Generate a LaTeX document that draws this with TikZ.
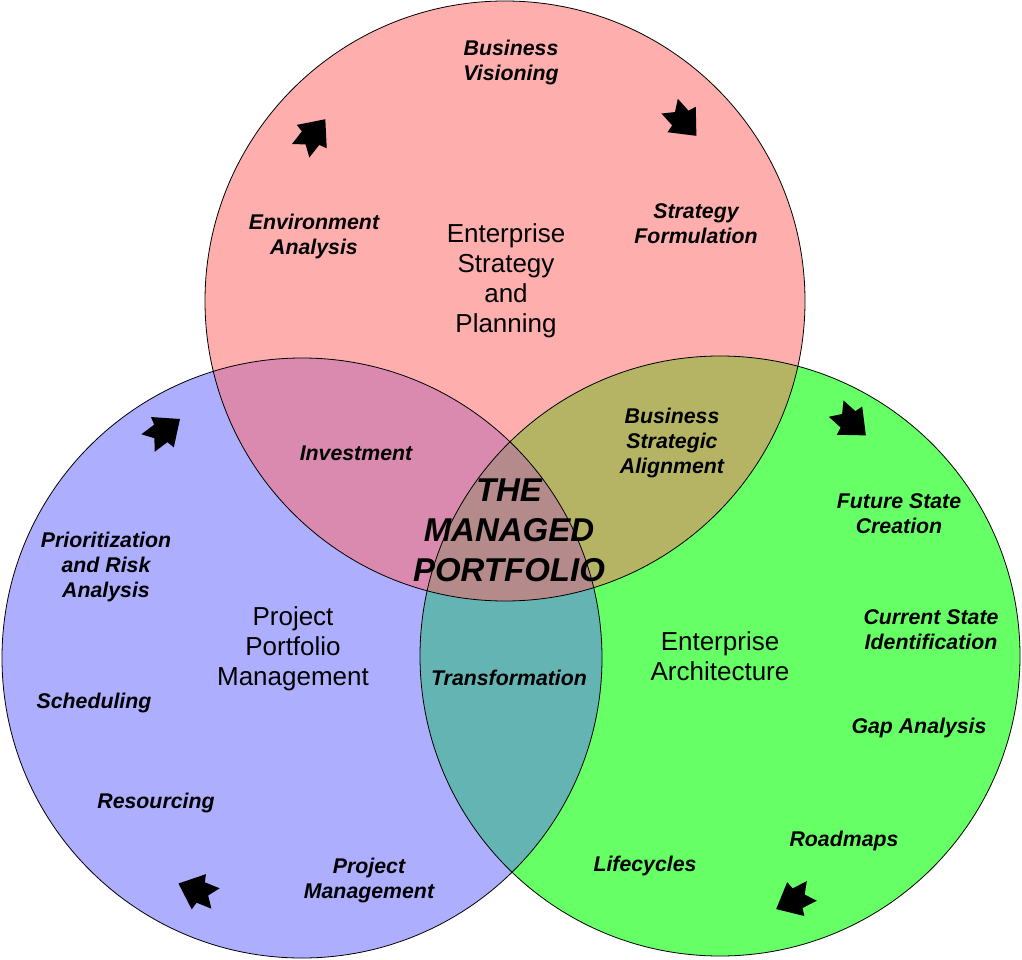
\documentclass[tikz,border=0pt]{standalone}
\usepackage{fontspec}
\setmainfont{Liberation Sans}
\definecolor{cred}{RGB}{255,174,174}
\definecolor{cblue}{RGB}{174,174,255}
\definecolor{cgreen}{RGB}{102,255,102}
\definecolor{crb}{RGB}{217,138,174}
\definecolor{crg}{RGB}{180,180,100}
\definecolor{cbg}{RGB}{100,180,180}
\definecolor{call}{RGB}{180,138,138}
\newcommand{\blkarrow}[3]{%
  \fill[black, shift={(#1,#2)}, rotate=#3]
    (20,0) -- (-2,19) -- (-4,11) -- (-20,11) -- (-12,0) -- (-20,-11) -- (-4,-11) -- (-2,-19) -- cycle;}
\begin{document}
\begin{tikzpicture}[x=1pt,y=-1pt,
  lbl/.style={font=\fontsize{21.3}{25}\selectfont\bfseries\itshape, align=center, inner sep=0pt},
  ttl/.style={font=\fontsize{26}{30}\selectfont, align=center, inner sep=0pt},
  big/.style={font=\fontsize{33}{40}\selectfont\bfseries\itshape, align=center, inner sep=0pt}]
\useasboundingbox (0,0) rectangle (1022,960);
\coordinate (R) at (505,301);
\coordinate (B) at (302,658);
\coordinate (G) at (720,656);
% base fills
\fill[cred] (R) circle (300pt);
\fill[cblue] (B) circle (300pt);
\fill[cgreen] (G) circle (300pt);
% pairwise overlaps
\begin{scope}
  \clip (R) circle (300pt);
  \fill[crb] (B) circle (300pt);
  \fill[crg] (G) circle (300pt);
\end{scope}
\begin{scope}
  \clip (B) circle (300pt);
  \fill[cbg] (G) circle (300pt);
  \clip (G) circle (300pt);
  \fill[call] (R) circle (300pt);
\end{scope}
% outlines
\draw[line width=0.8pt] (R) circle (300pt);
\draw[line width=0.8pt] (B) circle (300pt);
\draw[line width=0.8pt] (G) circle (300pt);
% arrows
\blkarrow{313}{135}{52}
\blkarrow{683}{121}{-48}
\blkarrow{164}{431}{37}
\blkarrow{851}{422}{-42}
\blkarrow{197}{891}{158}
\blkarrow{794}{900}{-153}
% texts
\node[lbl] (bv) at (511,62) {Business\\Visioning};
\node[lbl] (ea) at (314,236) {Environment\\Analysis};
\node[ttl] (esp) at (506,281) {Enterprise\\Strategy\\and\\Planning};
\node[lbl] (sf) at (696,224) {Strategy\\Formulation};
\node[lbl] (inv) at (356,453) {Investment};
\node[lbl] (bsa) at (672,443) {Business\\Strategic\\Alignment};
\node[big] (tmp) at (509,530) {THE\\MANAGED\\PORTFOLIO};
\node[lbl] (pra) at (106,567) {Prioritization\\and Risk\\Analysis};
\node[ttl] (ppm) at (293,649) {Project\\Portfolio\\Management};
\node[lbl] (sch) at (94,703) {Scheduling};
\node[lbl] (res) at (156,803) {Resourcing};
\node[lbl] (pm) at (369,880) {Project\\Management};
\node[lbl] (tr) at (509,678) {Transformation};
\node[lbl] (fsc) at (899,514) {Future State\\Creation};
\node[lbl] (csi) at (931,630) {Current State\\Identification};
\node[ttl] (eav) at (720,656) {Enterprise\\Architecture};
\node[lbl] (gap) at (919,728) {Gap Analysis};
\node[lbl] (rm) at (844,841) {Roadmaps};
\node[lbl] (lc) at (645,866) {Lifecycles};
\end{tikzpicture}
\end{document}
